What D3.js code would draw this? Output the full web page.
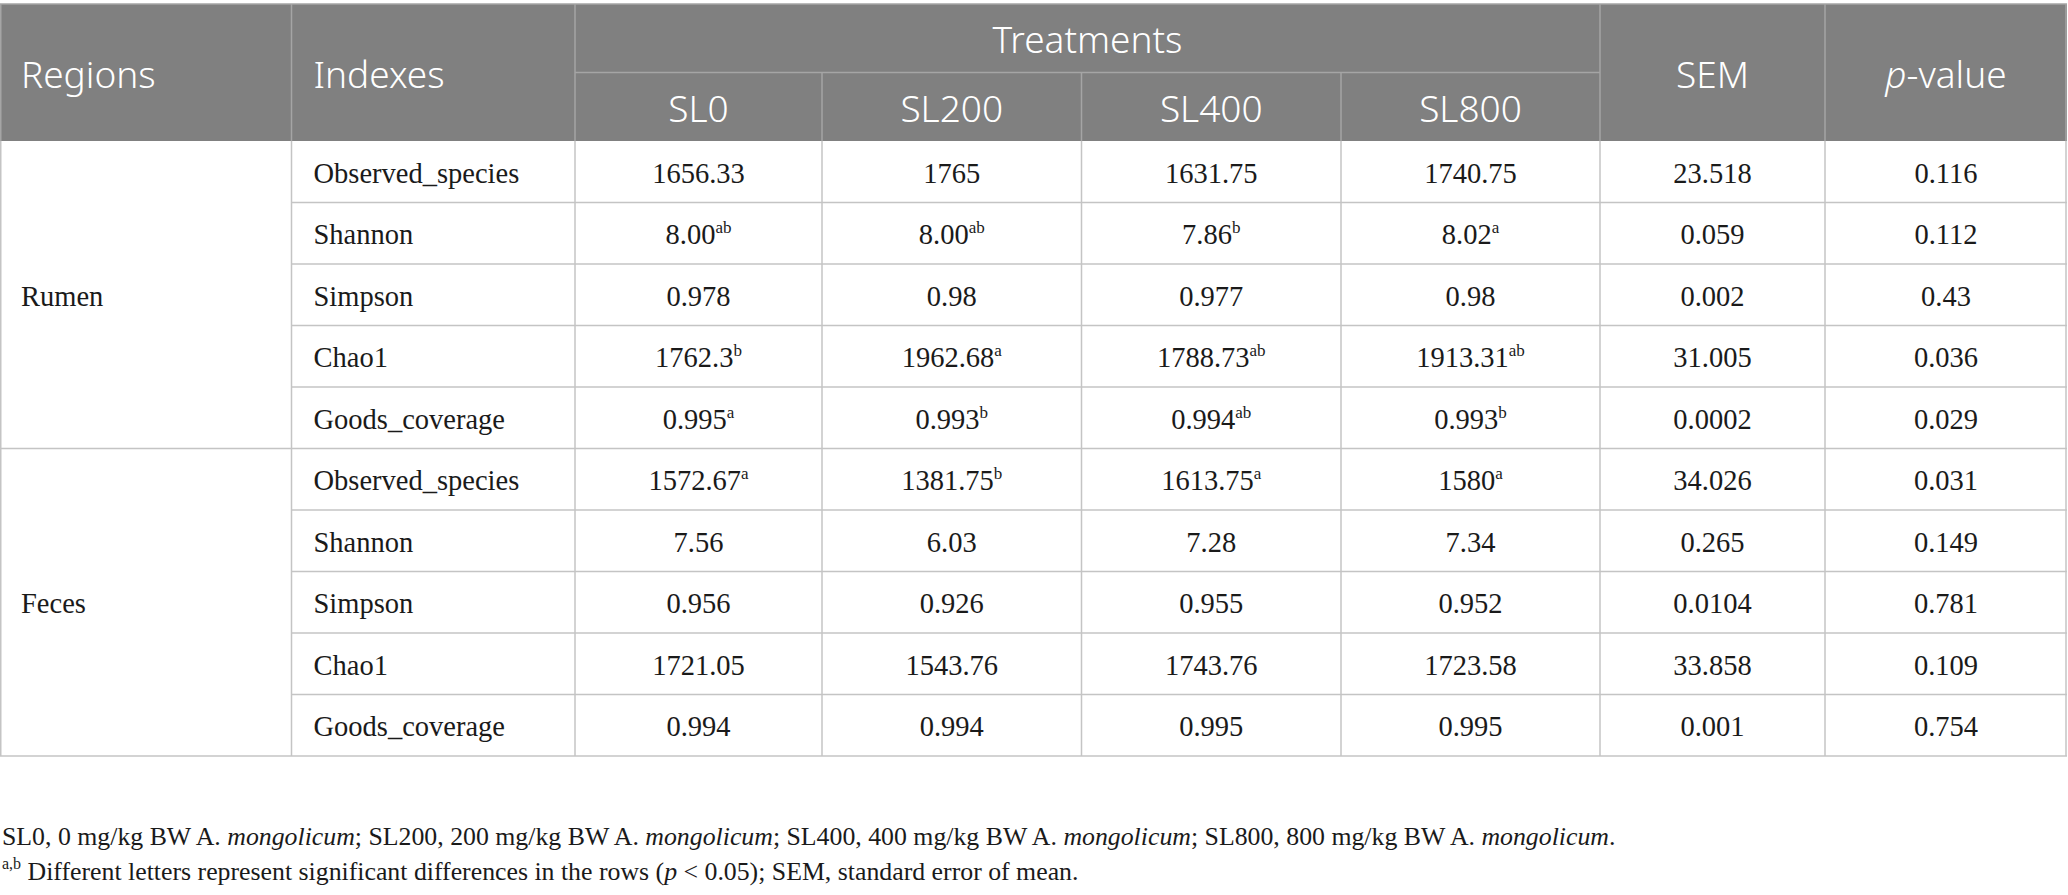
<!DOCTYPE html>
<html>
<head>
<meta charset="utf-8">
<script src="https://cdn.jsdelivr.net/npm/d3@7"></script>
<style>
  body { margin: 0; background: #fff; }
  svg { display: block; }
</style>
</head>
<body>
<div id="container"></div>
<script>
// <---------data---------->
let regions = ["Rumen", "Feces"];
let indexes = ["Observed_species", "Shannon", "Simpson", "Chao1", "Goods_coverage"];
let treatments = ["SL0", "SL200", "SL400", "SL800"];

// treatment means, one row per index
let rumenValues = [
  ["1656.33", "1765", "1631.75", "1740.75"],
  ["8.00", "8.00", "7.86", "8.02"],
  ["0.978", "0.98", "0.977", "0.98"],
  ["1762.3", "1962.68", "1788.73", "1913.31"],
  ["0.995", "0.993", "0.994", "0.993"]
];
let rumenLetters = [
  ["", "", "", ""],
  ["ab", "ab", "b", "a"],
  ["", "", "", ""],
  ["b", "a", "ab", "ab"],
  ["a", "b", "ab", "b"]
];
let rumenSem = ["23.518", "0.059", "0.002", "31.005", "0.0002"];
let rumenP = ["0.116", "0.112", "0.43", "0.036", "0.029"];

let fecesValues = [
  ["1572.67", "1381.75", "1613.75", "1580"],
  ["7.56", "6.03", "7.28", "7.34"],
  ["0.956", "0.926", "0.955", "0.952"],
  ["1721.05", "1543.76", "1743.76", "1723.58"],
  ["0.994", "0.994", "0.995", "0.995"]
];
let fecesLetters = [
  ["a", "b", "a", "a"],
  ["", "", "", ""],
  ["", "", "", ""],
  ["", "", "", ""],
  ["", "", "", ""]
];
let fecesSem = ["34.026", "0.265", "0.0104", "33.858", "0.001"];
let fecesP = ["0.031", "0.149", "0.781", "0.109", "0.754"];

// <---------layout---------->
let W = 2068, H = 895;
let colKeys = ["region", "index", "SL0", "SL200", "SL400", "SL800", "sem", "p"];
let colWidths = [291.5, 283.5, 247, 259.5, 259.5, 259, 225, 242];
let edges = [0].concat(Array.from(d3.cumsum(colWidths)));
let tableW = edges[edges.length - 1];

let colLeft = d3.scaleOrdinal().domain(colKeys).range(edges.slice(0, -1));
let colRight = d3.scaleOrdinal().domain(colKeys).range(edges.slice(1));
function colMid(k){ return (colLeft(k) + colRight(k)) / 2; }

let headTop = 4, headMid = 72.5, headBottom = 141, tableBottom = 756;

let rows = [];
regions.forEach(function(r, ri){
  let vals = ri == 0 ? rumenValues : fecesValues;
  let lets = ri == 0 ? rumenLetters : fecesLetters;
  let sem = ri == 0 ? rumenSem : fecesSem;
  let pv = ri == 0 ? rumenP : fecesP;
  indexes.forEach(function(ix, i){
    rows.push({ region: r, index: ix, values: vals[i], letters: lets[i], sem: sem[i], p: pv[i] });
  });
});

let y = d3.scaleBand()
  .domain(d3.range(rows.length))
  .range([headBottom, tableBottom]);

let headFill = "#808080";
let headLine = "#a5a5a5";
let bodyLine = "#c4c4c4";
let sans = "'Noto Sans', 'Open Sans', sans-serif";
let serif = "'Liberation Serif', 'Times New Roman', serif";
let bodySize = 28.5;
let bodyShift = 11;

let viz = d3.select("#container")
  .append("svg")
    .attr("width", W)
    .attr("height", H);

// <---------header---------->
viz.append("rect")
  .attr("x", 0).attr("y", headTop)
  .attr("width", tableW).attr("height", headBottom - headTop)
  .attr("fill", headFill);

let hLines = viz.append("g").attr("stroke", headLine).attr("stroke-width", 1.5);
hLines.append("line")
  .attr("x1", 0).attr("x2", tableW)
  .attr("y1", headTop).attr("y2", headTop);
hLines.append("line")
  .attr("x1", colLeft("SL0")).attr("x2", colRight("SL800"))
  .attr("y1", headMid).attr("y2", headMid);
hLines.selectAll(".hv").data(edges).enter()
  .append("line")
    .attr("class", "hv")
    .attr("x1", function(d, i){ return i == 0 ? 0.75 : (i == edges.length - 1 ? d - 1 : d); })
    .attr("x2", function(d, i){ return i == 0 ? 0.75 : (i == edges.length - 1 ? d - 1 : d); })
    .attr("y1", function(d, i){ return (i >= 3 && i <= 5) ? headMid : headTop; })
    .attr("y2", headBottom);

let headText = viz.append("g")
  .attr("fill", "#ffffff")
  .style("font-family", sans)
  .style("font-weight", 300)
  .style("font-size", "37px");

let hShift = 15;
headText.append("text")
  .attr("x", colLeft("region") + 21).attr("y", (headTop + headBottom) / 2 + hShift)
  .text("Regions");
headText.append("text")
  .attr("x", colLeft("index") + 22).attr("y", (headTop + headBottom) / 2 + hShift)
  .text("Indexes");
headText.append("text")
  .attr("x", (colLeft("SL0") + colRight("SL800")) / 2).attr("y", (headTop + headMid) / 2 + hShift)
  .attr("text-anchor", "middle")
  .text("Treatments");
headText.selectAll(".trt").data(treatments).enter()
  .append("text")
    .attr("class", "trt")
    .attr("x", function(d){ return colMid(d); })
    .attr("y", (headMid + headBottom) / 2 + hShift)
    .attr("text-anchor", "middle")
    .text(function(d){ return d; });
headText.append("text")
  .attr("x", colMid("sem")).attr("y", (headTop + headBottom) / 2 + hShift)
  .attr("text-anchor", "middle")
  .text("SEM");
let pHead = headText.append("text")
  .attr("x", colMid("p")).attr("y", (headTop + headBottom) / 2 + hShift)
  .attr("text-anchor", "middle");
pHead.append("tspan").style("font-style", "italic").text("p");
pHead.append("tspan").text("-value");

// <---------body grid---------->
let grid = viz.append("g").attr("stroke", bodyLine).attr("stroke-width", 1.5);

grid.selectAll(".rowline").data(rows).enter()
  .append("line")
    .attr("class", "rowline")
    .attr("x1", function(d, i){ return (i % indexes.length == indexes.length - 1) ? 0 : colLeft("index"); })
    .attr("x2", tableW)
    .attr("y1", function(d, i){ return y(i) + y.bandwidth(); })
    .attr("y2", function(d, i){ return y(i) + y.bandwidth(); });

grid.selectAll(".colline").data(edges).enter()
  .append("line")
    .attr("class", "colline")
    .attr("x1", function(d, i){ return i == 0 ? 0.75 : (i == edges.length - 1 ? d - 1 : d); })
    .attr("x2", function(d, i){ return i == 0 ? 0.75 : (i == edges.length - 1 ? d - 1 : d); })
    .attr("y1", headBottom).attr("y2", tableBottom);

// <---------body text---------->
let bodyText = viz.append("g")
  .attr("fill", "#1a1a1a")
  .style("font-family", serif)
  .style("font-size", bodySize + "px");

bodyText.selectAll(".region").data(regions).enter()
  .append("text")
    .attr("class", "region")
    .attr("x", colLeft("region") + 21)
    .attr("y", function(d, i){
      let top = y(i * indexes.length);
      let bottom = y(i * indexes.length + indexes.length - 1) + y.bandwidth();
      return (top + bottom) / 2 + bodyShift;
    })
    .text(function(d){ return d; });

let rowG = bodyText.selectAll(".row").data(rows).enter()
  .append("g")
    .attr("class", "row")
    .attr("transform", function(d, i){ return "translate(0," + (y(i) + y.bandwidth() / 2 + bodyShift) + ")"; });

rowG.append("text")
  .attr("x", colLeft("index") + 22)
  .text(function(d){ return d.index; });

treatments.forEach(function(t, ti){
  let cell = rowG.append("text")
    .attr("x", colMid(t))
    .attr("text-anchor", "middle");
  cell.append("tspan").text(function(d){ return d.values[ti]; });
  cell.append("tspan")
    .attr("dy", -11)
    .style("font-size", "17px")
    .text(function(d){ return d.letters[ti]; });
});

rowG.append("text")
  .attr("x", colMid("sem"))
  .attr("text-anchor", "middle")
  .text(function(d){ return d.sem; });

rowG.append("text")
  .attr("x", colMid("p"))
  .attr("text-anchor", "middle")
  .text(function(d){ return d.p; });

// <---------footnotes---------->
let notes = viz.append("g")
  .attr("fill", "#1a1a1a")
  .style("font-family", serif)
  .style("font-size", "25.8px");

let note1 = notes.append("text").attr("x", 2).attr("y", 845);
treatments.forEach(function(t, i){
  let dose = t.replace("SL", "");
  note1.append("tspan").text(t + ", " + dose + " mg/kg BW A. ");
  note1.append("tspan").style("font-style", "italic").text("mongolicum");
  note1.append("tspan").text(i < treatments.length - 1 ? "; " : ".");
});

let note2 = notes.append("text").attr("x", 2).attr("y", 880);
note2.append("tspan").attr("dy", -11).style("font-size", "16px").text("a,b");
note2.append("tspan").attr("dy", 11).text(" Different letters represent significant differences in the rows (");
note2.append("tspan").style("font-style", "italic").text("p");
note2.append("tspan").text(" < 0.05); SEM, standard error of mean.");
</script>
</body>
</html>
